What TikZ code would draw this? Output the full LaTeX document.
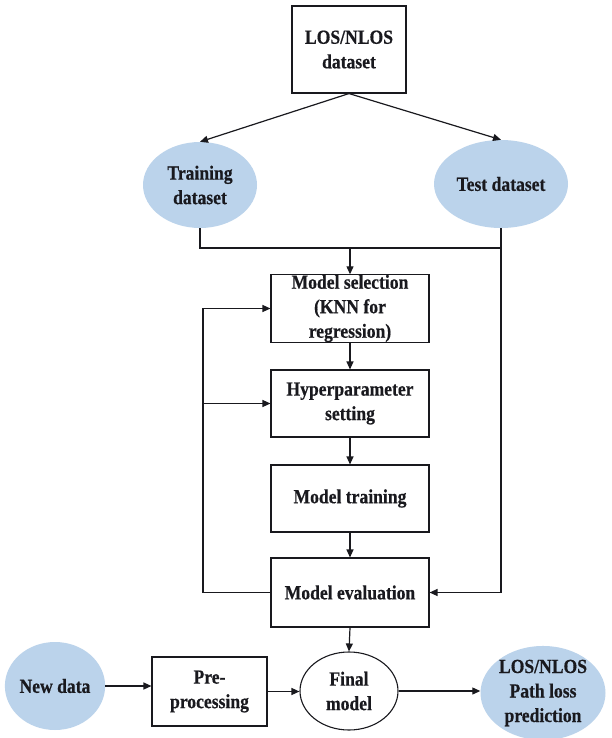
\documentclass[tikz,border=0pt]{standalone}
\usepackage{fontspec}
\setmainfont[FakeStretch=0.88, BoldFeatures={FakeBold=0.5}]{Liberation Serif}
\usetikzlibrary{shapes.geometric,arrows.meta}
\definecolor{blobfill}{RGB}{187,211,235}
\definecolor{ink}{RGB}{25,25,30}
\tikzset{
  every node/.style={font=\fontsize{20}{24.5}\selectfont\bfseries, text=ink, align=center, inner sep=0pt},
  box/.style={draw=ink, line width=1.1pt, rectangle, fill=white},
  blob/.style={ellipse, fill=blobfill, draw=none},
  oval/.style={ellipse, draw=ink, line width=1.1pt, fill=white},
  conn/.style={draw=ink, line width=1.2pt},
  arr/.style={conn, -{Triangle[length=8pt,width=7pt]}}
}
\begin{document}
\begin{tikzpicture}[x=1pt,y=-1pt]
\useasboundingbox (0,0) rectangle (611,738);
\fill[white] (0,0) rectangle (611,738);

% top part
\node[box, minimum width=114pt, minimum height=87pt] (ds) at (349,49.5) {LOS/NLOS\\dataset};
\node[blob, minimum width=114pt, minimum height=86pt] (train) at (200,185) {Training\\dataset};
\node[blob, minimum width=134pt, minimum height=88pt] (test) at (501,184) {Test dataset};

% main column
\node[box, minimum width=158pt, minimum height=67pt] (sel) at (350,308.5) {Model selection\\(KNN for\\regression)};
\node[box, minimum width=158pt, minimum height=67pt] (hyp) at (350,403.5) {Hyperparameter\\setting};
\node[box, minimum width=158pt, minimum height=67pt] (trn) at (350,498.5) {Model training};
\node[box, minimum width=158pt, minimum height=69pt] (eval) at (350,592.5) {Model evaluation};

% bottom row
\node[blob, minimum width=94pt, minimum height=88pt] (new) at (55,686) {New data};
\node[box, minimum width=115pt, minimum height=69pt] (pre) at (209.5,691.5) {Pre-\\processing};
\node[oval, minimum width=98pt, minimum height=78pt] (final) at (349,691) {Final\\model};
\node[blob, minimum width=125pt, minimum height=90pt] (pred) at (543,693) {LOS/NLOS\\Path loss\\prediction};

% helper coordinates
\coordinate (jm) at (350,248);
\coordinate (lx) at (203,0);

% connectors
\draw[arr] (ds.south) -- (train.north);
\draw[arr] (ds.south) -- (test.north);
\draw[conn] (train.south) -- (train.south |- jm) -- (test.south |- jm);
\draw[arr] (test.south) -- (test.south |- eval.east) -- (eval.east);
\draw[arr] (jm) -- (sel.north);
\draw[arr] (sel.south) -- (hyp.north);
\draw[arr] (hyp.south) -- (trn.north);
\draw[arr] (trn.south) -- (eval.north);
\draw[arr] (eval.west) -- (lx |- eval.west) -- (lx |- sel.west) -- (sel.west);
\draw[arr] (lx |- hyp.west) -- (hyp.west);
\draw[arr] (eval.south) -- (final.north);
\draw[arr] (new.east) -- (new.east -| pre.west);
\draw[arr] (pre.east) -- (pre.east -| final.west);
\draw[arr] (final.east) -- (final.east -| pred.west);
\end{tikzpicture}
\end{document}
